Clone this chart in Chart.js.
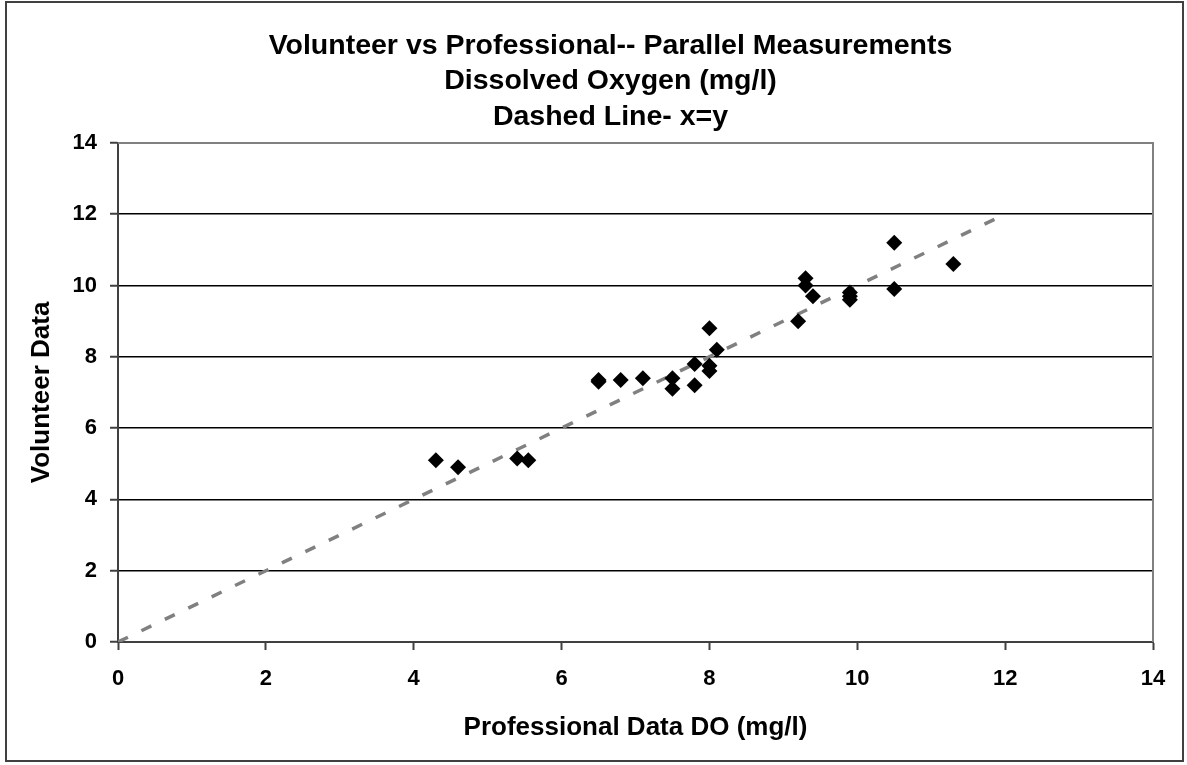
<!DOCTYPE html>
<html>
<head>
<meta charset="utf-8">
<script src="https://cdn.jsdelivr.net/npm/chart.js@4/dist/chart.umd.min.js"></script>
<style>
  body { margin: 0; background: #fff; }
</style>
</head>
<body>
<canvas id="doChart" width="1187" height="765"></canvas>
<script>
// professional vs volunteer DO readings (mg/l)
const professional = [4.3, 4.6, 5.4, 5.55, 6.5, 6.5, 6.8, 7.1, 7.5, 7.5, 7.8, 7.8, 8.0, 8.1, 8.0, 8.0,
    9.2, 9.3, 9.3, 9.4, 9.9, 9.9, 9.9, 10.5, 10.5, 11.3];
const volunteer = [5.1, 4.9, 5.15, 5.1, 7.3, 7.35, 7.35, 7.4, 7.4, 7.1, 7.8, 7.2, 8.8, 8.2, 7.75, 7.6,
    9.0, 10.2, 10.0, 9.7, 9.8, 9.7, 9.6, 11.2, 9.9, 10.6];

// x = y reference line
const refX = [0, 12];
const refY = [0, 12];

const titleLines = [
    "Volunteer vs Professional-- Parallel Measurements",
    "Dissolved Oxygen (mg/l)",
    "Dashed Line- x=y"
];
const xTitle = "Professional Data DO (mg/l)";
const yTitle = "Volunteer Data";

const fontFamily = "'Liberation Sans', Arial, sans-serif";

// gray frame round the plot area + outer border
const frames = {
    id: "frames",
    beforeDatasetsDraw(chart) {
        const { ctx, chartArea: a } = chart;
        ctx.save();
        ctx.strokeStyle = "#808080";
        ctx.lineWidth = 2;
        ctx.beginPath();
        ctx.moveTo(a.left, a.top);
        ctx.lineTo(a.right, a.top);
        ctx.lineTo(a.right, a.bottom);
        ctx.stroke();
        ctx.restore();
    },
    afterDraw(chart) {
        const ctx = chart.ctx;
        ctx.save();
        ctx.strokeStyle = "#404040";
        ctx.lineWidth = 2;
        ctx.strokeRect(6, 2, 1177, 759);
        ctx.restore();
    }
};

// left padding pushes the title centre over the plot; y axis is narrowed to match
const padLeft = 68;

new Chart(document.getElementById("doChart"), {
    type: "scatter",
    data: {
        datasets: [{
            label: "Volunteer",
            data: professional.map((x, i) => ({ x: x, y: volunteer[i] })),
            pointStyle: "rectRot",
            pointRadius: 8,
            pointHoverRadius: 8,
            backgroundColor: "#000",
            borderColor: "#000",
            borderWidth: 0,
            order: 0
        }, {
            label: "x=y",
            data: refX.map((x, i) => ({ x: x, y: refY[i] })),
            showLine: true,
            pointRadius: 0,
            borderColor: "#808080",
            borderWidth: 3.5,
            borderDash: [11, 15],
            order: 1
        }]
    },
    options: {
        responsive: false,
        animation: false,
        devicePixelRatio: 1,
        layout: { padding: { left: padLeft, right: 34, top: 0, bottom: 0 } },
        plugins: {
            legend: { display: false },
            tooltip: { enabled: false },
            title: {
                display: true,
                text: titleLines,
                color: "#000",
                font: { family: fontFamily, size: 28.5, weight: "bold", lineHeight: 1.25 },
                padding: { top: 28, bottom: 8 }
            }
        },
        scales: {
            x: {
                type: "linear",
                min: 0,
                max: 14,
                afterFit: s => { s.height = 123; },
                ticks: {
                    stepSize: 2,
                    color: "#000",
                    padding: 16,
                    font: { family: fontFamily, size: 22, weight: "bold" }
                },
                grid: {
                    drawOnChartArea: false,
                    drawTicks: true,
                    tickLength: 8,
                    tickColor: "#404040",
                    tickWidth: 2
                },
                border: { color: "#404040", width: 2 },
                title: {
                    display: true,
                    text: xTitle,
                    color: "#000",
                    font: { family: fontFamily, size: 26, weight: "bold" },
                    padding: { top: 0, bottom: 22 }
                }
            },
            y: {
                min: 0,
                max: 14,
                afterFit: s => { s.width = 118 - padLeft; },
                ticks: {
                    stepSize: 2,
                    color: "#000",
                    padding: 13,
                    font: { family: fontFamily, size: 22, weight: "bold" }
                },
                grid: {
                    color: ctx => (ctx.tick && (ctx.tick.value === 0 || ctx.tick.value === 14)) ? "rgba(0,0,0,0)" : "#000",
                    lineWidth: 1.5,
                    drawTicks: true,
                    tickLength: 8,
                    tickColor: "#404040",
                    tickWidth: 2
                },
                border: { color: "#404040", width: 2 },
                title: {
                    display: true,
                    text: yTitle,
                    color: "#000",
                    font: { family: fontFamily, size: 26, weight: "bold" },
                    padding: { top: 26 - padLeft, bottom: 0 }
                }
            }
        }
    },
    plugins: [frames]
});
</script>
</body>
</html>
